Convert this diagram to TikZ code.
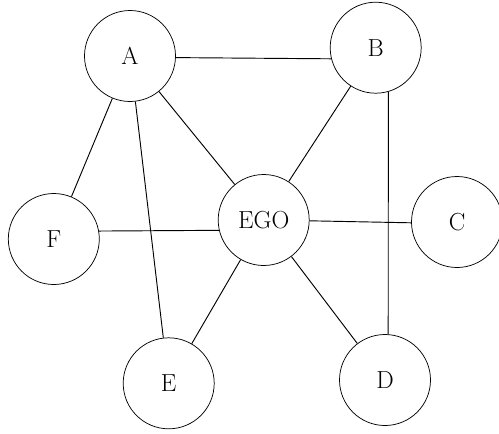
\documentclass[tikz,border=0pt]{standalone}
\begin{document}
\begin{tikzpicture}[x=0.75pt,y=-0.75pt,
  person/.style={circle,draw,line width=0.55pt,minimum size=68.25pt,inner sep=0pt,
    font=\fontsize{18.5}{20}\selectfont},
  tie/.style={line width=0.7pt}]
\useasboundingbox (0,0) rectangle (499,433);
% actors of the network
\node[person] (A)   at (130,56)    {A};
\node[person] (B)   at (375.7,47.7){B};
\node[person] (EGO) at (263.7,220) {EGO};
\node[person] (C)   at (457,222)   {C};
\node[person] (F)   at (53.8,239)  {F};
\node[person] (E)   at (168.7,383.3){E};
\node[person] (D)   at (385,380)   {D};
% ties
\draw[tie] (A.-2.5) -- (B.-166.8);
\draw[tie] (A) -- (F);
\draw[tie] (A) -- (E);
\draw[tie] (A) -- (EGO);
\draw[tie] (B) -- (EGO);
\draw[tie] (B.-74) -- (D.86);
\draw[tie] (F.10) -- (EGO.193.9);
\draw[tie] (EGO.-1) -- (C.181);
\draw[tie] (EGO) -- (E);
\draw[tie] (EGO) -- (D);
\end{tikzpicture}
\end{document}
